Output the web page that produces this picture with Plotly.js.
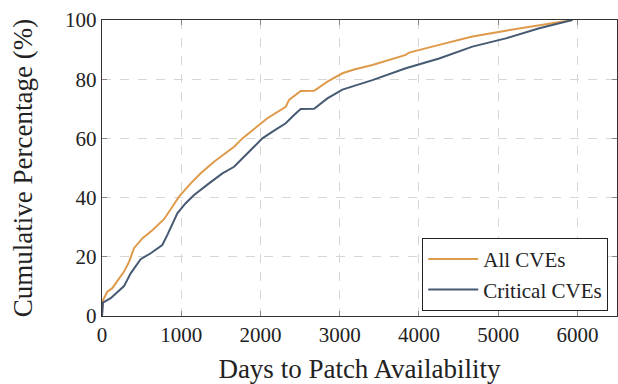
<!DOCTYPE html>
<html>
<head>
<meta charset="utf-8">
<script src="https://cdn.plot.ly/plotly-3.0.1.min.js"></script>
<style>html,body{margin:0;padding:0;background:#fff;}#chart{width:618px;height:384px;}</style>
</head>
<body>
<div id="chart"></div>
<script>
const allDays = [0, 10, 67, 130, 278, 341, 404, 509, 635, 720, 783, 888, 972, 1120, 1246, 1414, 1667, 1772, 1961, 2087, 2319, 2361, 2508, 2677, 2845, 3034, 3182, 3413, 3834, 3876, 4255, 4675, 5097, 5518, 5938];
const allPct  = [0, 5.2, 8.2, 9.4, 15, 18.3, 22.9, 26.2, 29, 31.3, 32.7, 36.9, 40.3, 44.8, 48.2, 52.1, 57.2, 60, 64, 66.8, 70.7, 73, 76, 76.1, 79.2, 82, 83.3, 84.8, 88.2, 89, 91.6, 94.4, 96.4, 98.3, 100];
const critDays = [0, 12, 110, 278, 362, 488, 615, 761, 825, 951, 1056, 1162, 1351, 1520, 1667, 1751, 1877, 2024, 2172, 2319, 2424, 2508, 2677, 2845, 3034, 3182, 3413, 3834, 4255, 4675, 5097, 5518, 5938];
const critPct  = [0, 4.5, 6, 10.1, 14.4, 19.2, 21.2, 24, 27.4, 34.7, 38.1, 40.9, 44.8, 48.2, 50.4, 52.7, 56.1, 60, 62.6, 65.1, 67.9, 69.9, 70, 73.5, 76.5, 77.8, 79.7, 83.7, 87, 91, 93.8, 97.2, 100];
const seriesNames = ["All CVEs", "Critical CVEs"];
const xTicks = [0, 1000, 2000, 3000, 4000, 5000, 6000];
const yTicks = [0, 20, 40, 60, 80, 100];

const font = "Times New Roman, Liberation Serif, DejaVu Serif, serif";
const traces = [
  {x: allDays, y: allPct, name: seriesNames[0], mode: "lines", line: {color: "#DE9A4A", width: 2}},
  {x: critDays, y: critPct, name: seriesNames[1], mode: "lines", line: {color: "#475A73", width: 2}}
];
const axisCommon = {
  showline: true, linecolor: "#333", linewidth: 1.2, mirror: "ticks",
  ticks: "inside", ticklen: 5, tickcolor: "#888", tickwidth: 1,
  showgrid: true, gridcolor: "#d6d6d6", griddash: "dash", gridwidth: 1,
  zeroline: false, tickfont: {family: font, size: 21, color: "#222"}
};
const layout = {
  width: 618, height: 384,
  margin: {l: 102, r: 1, t: 20, b: 68},
  paper_bgcolor: "#fff", plot_bgcolor: "#fff",
  font: {family: font, color: "#222"},
  xaxis: Object.assign({}, axisCommon, {range: [0, 6500], tickvals: xTicks,
    title: {text: "Days to Patch Availability", font: {family: font, size: 27, color: "#222"}, standoff: 15}}),
  yaxis: Object.assign({}, axisCommon, {range: [0, 100], tickvals: yTicks,
    title: {text: "Cumulative Percentage (%)", font: {family: font, size: 27, color: "#222"}, standoff: 24}}),
  legend: {x: 0.983, y: 0.017, xanchor: "right", yanchor: "bottom",
    bgcolor: "#fff", bordercolor: "#222", borderwidth: 1, tracegroupgap: 0, itemwidth: 50,
    font: {family: font, size: 21, color: "#222"}},
  showlegend: true
};
Plotly.newPlot("chart", traces, layout, {staticPlot: true, displayModeBar: false});
</script>
</body>
</html>
